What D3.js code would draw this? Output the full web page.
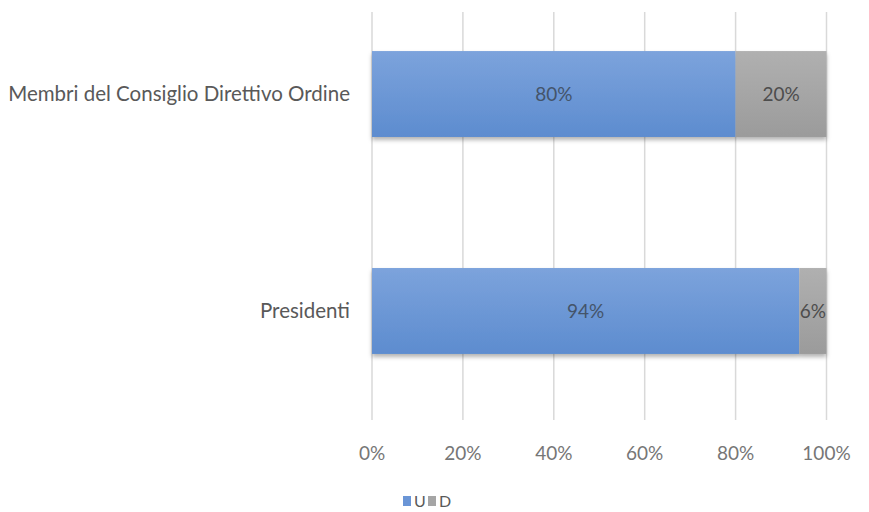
<!DOCTYPE html>
<html>
<head>
<meta charset="utf-8">
<script src="https://cdn.jsdelivr.net/npm/d3@7"></script>
<style>
  body { margin: 0; background: #fff; }
  text { font-family: Lato, "Open Sans", sans-serif; }
</style>
</head>
<body>
<div id="chart"></div>
<script>
var categories = ["Membri del Consiglio Direttivo Ordine", "Presidenti"];
var seriesNames = ["U", "D"];
var valuesU = [0.80, 0.94];
var valuesD = [0.20, 0.06];
var tickValues = [0, 0.2, 0.4, 0.6, 0.8, 1.0];

var width = 869, height = 512;
var margin = { top: 12, right: 42, bottom: 92, left: 372 };
var plotW = width - margin.left - margin.right,
    plotH = height - margin.top - margin.bottom;

var svg = d3.select("#chart").append("svg")
    .attr("width", width)
    .attr("height", height);

var defs = svg.append("defs");
var gBlue = defs.append("linearGradient").attr("id", "gBlue")
    .attr("x1", 0).attr("y1", 0).attr("x2", 0).attr("y2", 1);
gBlue.append("stop").attr("offset", "0%").attr("stop-color", "#7ca3dc");
gBlue.append("stop").attr("offset", "100%").attr("stop-color", "#5d8ccf");
var gGray = defs.append("linearGradient").attr("id", "gGray")
    .attr("x1", 0).attr("y1", 0).attr("x2", 0).attr("y2", 1);
gGray.append("stop").attr("offset", "0%").attr("stop-color", "#b0b0b0");
gGray.append("stop").attr("offset", "100%").attr("stop-color", "#9b9b9b");
var shadow = defs.append("filter").attr("id", "shadow")
    .attr("x", "-5%").attr("y", "-10%").attr("width", "110%").attr("height", "130%");
shadow.append("feDropShadow").attr("dx", 0).attr("dy", 3).attr("stdDeviation", 2)
    .attr("flood-color", "#000").attr("flood-opacity", 0.3);

var g = svg.append("g").attr("transform", "translate(" + margin.left + "," + margin.top + ")");

var x = d3.scaleLinear().domain([0, 1]).range([0, plotW - 0.5]);
var y = d3.scaleBand().domain(categories).range([0, 381]).paddingInner(0.604).paddingOuter(0.18);

// gridlines
g.selectAll(".grid").data(tickValues).enter().append("line")
    .attr("x1", function (d) { return x(d); })
    .attr("x2", function (d) { return x(d); })
    .attr("y1", 0).attr("y2", plotH)
    .attr("stroke", "#d9d9d9").attr("stroke-width", 1.5);

// tick labels
g.selectAll(".tick").data(tickValues).enter().append("text")
    .attr("x", function (d) { return x(d); })
    .attr("y", plotH + 40)
    .attr("text-anchor", "middle")
    .attr("font-size", 19)
    .attr("fill", "#767676")
    .text(function (d) { return Math.round(d * 100) + "%"; });

var rows = categories.map(function (c, i) {
    return { name: c, u: valuesU[i], d: valuesD[i] };
});

var bar = g.selectAll(".bar").data(rows).enter().append("g")
    .attr("filter", "url(#shadow)");

bar.append("rect")
    .attr("x", x(0))
    .attr("y", function (d) { return y(d.name); })
    .attr("width", function (d) { return x(d.u) - x(0); })
    .attr("height", y.bandwidth())
    .attr("fill", "url(#gBlue)");

bar.append("rect")
    .attr("x", function (d) { return x(d.u); })
    .attr("y", function (d) { return y(d.name); })
    .attr("width", function (d) { return x(d.u + d.d) - x(d.u); })
    .attr("height", y.bandwidth())
    .attr("fill", "url(#gGray)");

// value labels
g.selectAll(".lblU").data(rows).enter().append("text")
    .attr("x", function (d) { return x(d.u / 2); })
    .attr("y", function (d) { return y(d.name) + y.bandwidth() / 2; })
    .attr("dy", "0.35em")
    .attr("text-anchor", "middle")
    .attr("font-size", 19)
    .attr("fill", "#44546a")
    .text(function (d) { return Math.round(d.u * 100) + "%"; });

g.selectAll(".lblD").data(rows).enter().append("text")
    .attr("x", function (d) { return x(d.u + d.d / 2); })
    .attr("y", function (d) { return y(d.name) + y.bandwidth() / 2; })
    .attr("dy", "0.35em")
    .attr("text-anchor", "middle")
    .attr("font-size", 19)
    .attr("fill", "#4d4d4d")
    .text(function (d) { return Math.round(d.d * 100) + "%"; });

// category labels
g.selectAll(".cat").data(categories).enter().append("text")
    .attr("x", -22)
    .attr("y", function (d) { return y(d) + y.bandwidth() / 2; })
    .attr("dy", "0.35em")
    .attr("text-anchor", "end")
    .attr("font-size", 20.5)
    .attr("fill", "#595959")
    .text(function (d) { return d; });

// legend
var legendColors = ["#6a95d6", "#a5a5a5"];
var leg = svg.append("g").attr("transform", "translate(403,495)");
var li = leg.selectAll(".li").data(seriesNames).enter().append("g")
    .attr("transform", function (d, i) { return "translate(" + (i * 25) + ",0)"; });
li.append("rect").attr("y", 1).attr("width", 8).attr("height", 10)
    .attr("fill", function (d, i) { return legendColors[i]; });
li.append("text").attr("x", 11).attr("y", 12)
    .attr("font-size", 16).attr("fill", "#595959")
    .text(function (d) { return d; });
</script>
</body>
</html>
